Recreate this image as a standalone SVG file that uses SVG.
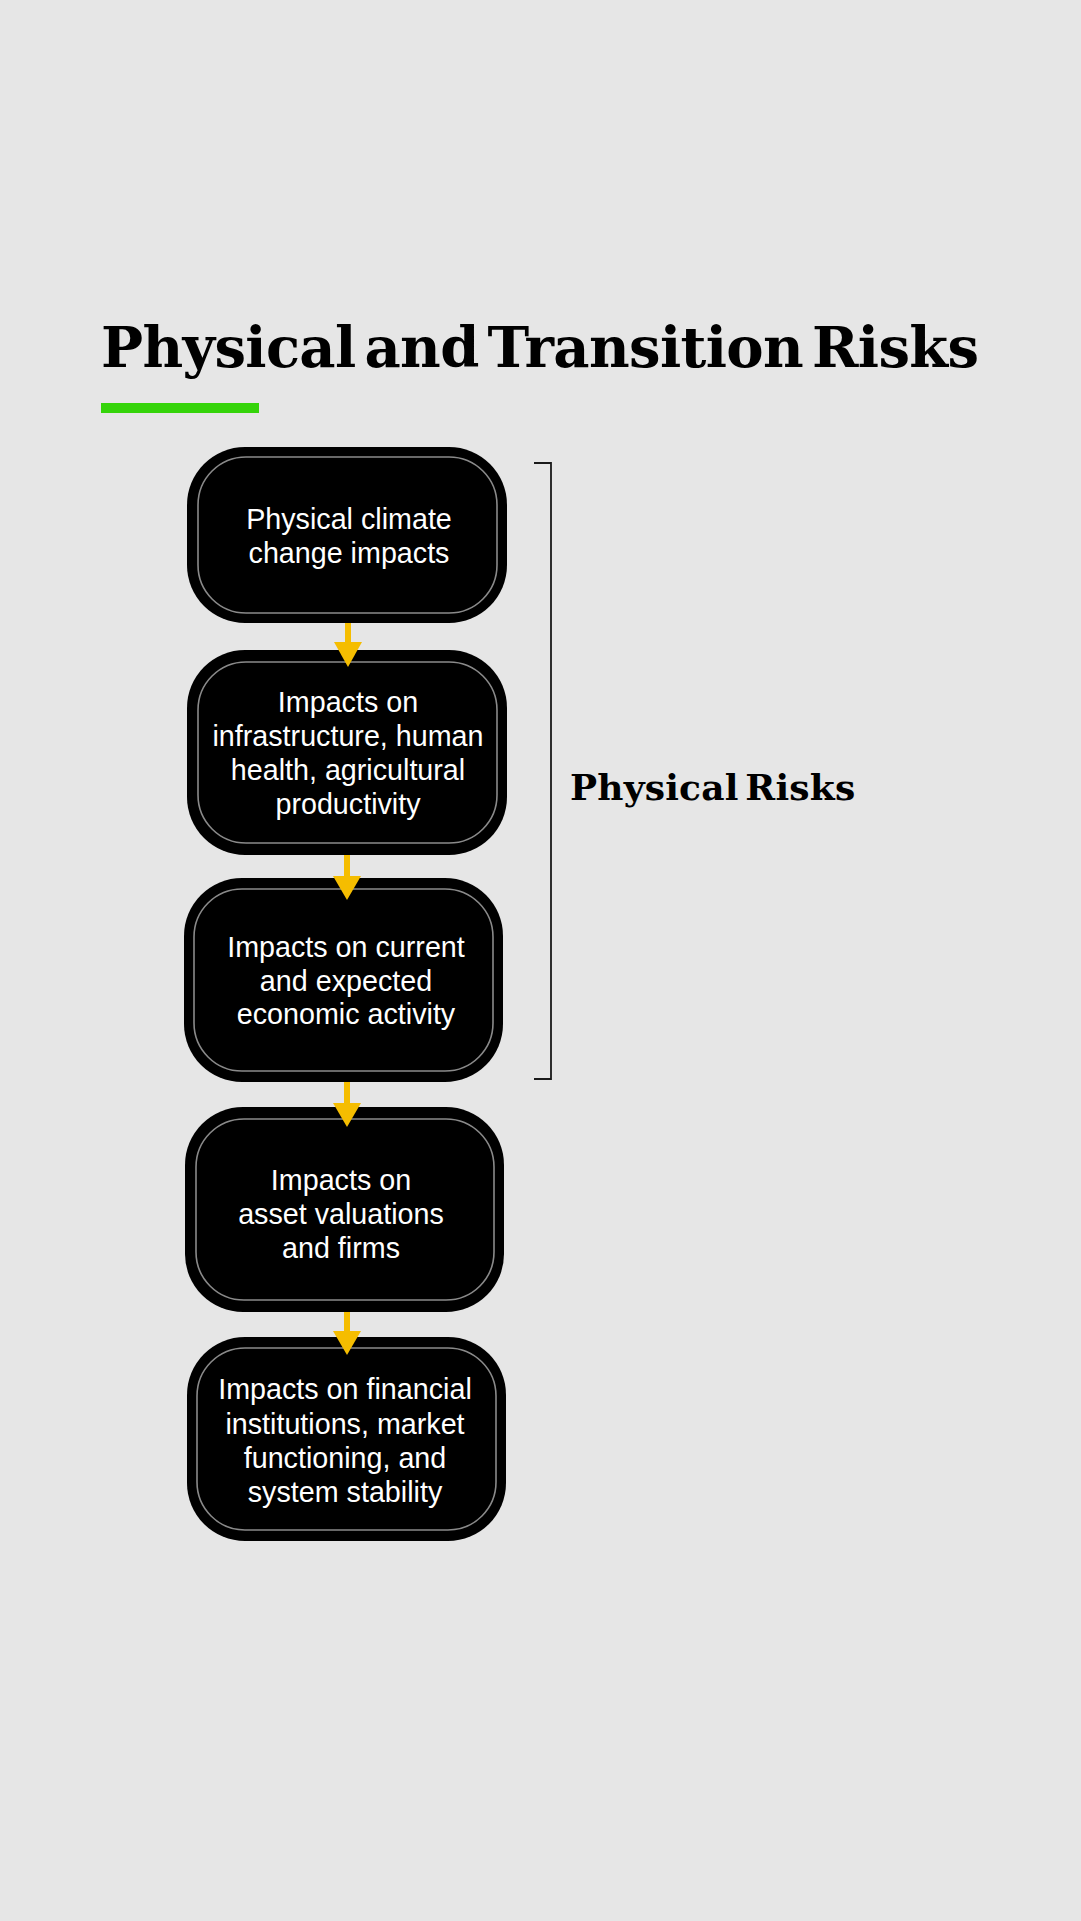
<svg xmlns="http://www.w3.org/2000/svg" width="1081" height="1921" viewBox="0 0 1081 1921">
  <style>
    .outer { fill: #000000; }
    .inner { fill: none; stroke: #8a8a8a; stroke-width: 1.6; }
    .lbl { font-family: "Liberation Sans", Arial, sans-serif; font-size: 28.7px; fill: #ffffff; text-anchor: middle; }
    .title { font-family: "DejaVu Serif", serif; font-weight: bold; fill: #000000; }
    .shaft { stroke: #f5bd00; stroke-width: 6; fill: none; }
    .head { fill: #f5bd00; }
    .bracket { fill: none; stroke: #1a1a1a; stroke-width: 1.8; }
  </style>
  <rect x="0" y="0" width="1081" height="1921" fill="#e6e6e6"/>

  <g id="title">
    <text class="title" x="101" y="367" font-size="56" letter-spacing="-0.65" word-spacing="-10">Physical and Transition Risks</text>
    <rect x="101" y="403" width="158" height="10" fill="#35d40a"/>
  </g>

  <g id="node1">
    <rect class="outer" x="187" y="447" width="320" height="176" rx="58" ry="58"/>
    <rect class="inner" x="198" y="457" width="299" height="156" rx="48" ry="48"/>
    <text class="lbl" x="349" y="529">Physical climate</text>
    <text class="lbl" x="349" y="563">change impacts</text>
  </g>

  <g id="node2">
    <rect class="outer" x="187" y="650" width="320" height="205" rx="58" ry="58"/>
    <rect class="inner" x="198" y="662" width="299" height="181" rx="48" ry="48"/>
    <text class="lbl" x="348" y="712">Impacts on</text>
    <text class="lbl" x="348" y="746">infrastructure, human</text>
    <text class="lbl" x="348" y="780">health, agricultural</text>
    <text class="lbl" x="348" y="814">productivity</text>
  </g>

  <g id="node3">
    <rect class="outer" x="184" y="878" width="319" height="204" rx="58" ry="58"/>
    <rect class="inner" x="194" y="889" width="299" height="182" rx="48" ry="48"/>
    <text class="lbl" x="346" y="957">Impacts on current</text>
    <text class="lbl" x="346" y="990.5">and expected</text>
    <text class="lbl" x="346" y="1024">economic activity</text>
  </g>

  <g id="node4">
    <rect class="outer" x="185" y="1107" width="319" height="205" rx="58" ry="58"/>
    <rect class="inner" x="196" y="1119" width="298" height="181" rx="48" ry="48"/>
    <text class="lbl" x="341" y="1190">Impacts on</text>
    <text class="lbl" x="341" y="1224">asset valuations</text>
    <text class="lbl" x="341" y="1258">and firms</text>
  </g>

  <g id="node5">
    <rect class="outer" x="187" y="1337" width="319" height="204" rx="58" ry="58"/>
    <rect class="inner" x="197" y="1348" width="299" height="182" rx="48" ry="48"/>
    <text class="lbl" x="345" y="1399">Impacts on financial</text>
    <text class="lbl" x="345" y="1433.5">institutions, market</text>
    <text class="lbl" x="345" y="1468">functioning, and</text>
    <text class="lbl" x="345" y="1502">system stability</text>
  </g>

  <g id="connectors">
    <line class="shaft" x1="348" y1="623" x2="348" y2="644"/>
    <polygon class="head" points="334,642 362,642 348,667"/>
    <line class="shaft" x1="347" y1="855" x2="347" y2="878"/>
    <polygon class="head" points="333,876 361,876 347,900"/>
    <line class="shaft" x1="347" y1="1082" x2="347" y2="1105"/>
    <polygon class="head" points="333,1103 361,1103 347,1127"/>
    <line class="shaft" x1="347" y1="1312" x2="347" y2="1333"/>
    <polygon class="head" points="333,1331 361,1331 347,1355"/>
  </g>

  <g id="physical-risks">
    <polyline class="bracket" points="534,463 551,463 551,1079 534,1079"/>
    <text class="title" x="570" y="800" font-size="36" letter-spacing="0.2" word-spacing="-6">Physical Risks</text>
  </g>
</svg>
